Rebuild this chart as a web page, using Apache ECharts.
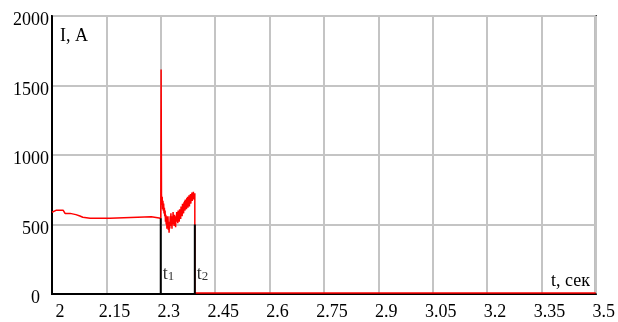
<!DOCTYPE html>
<html>
<head>
<meta charset="utf-8">
<script src="https://cdn.jsdelivr.net/npm/echarts@6/dist/echarts.min.js"></script>
<style>
  html, body { margin: 0; padding: 0; background: #fff; }
  #chart { width: 618px; height: 322px; }
</style>
</head>
<body>
<div id="chart"></div>
<script>
// Time samples (s) and phase current (A)
const timeSec = [
  2.000, 2.011, 2.031, 2.031, 2.036, 2.036, 2.050, 2.050, 2.066, 2.066, 2.077, 2.077,
  2.085, 2.085, 2.105, 2.160, 2.164, 2.274, 2.278, 2.300,
  2.301, 2.302, 2.303, 2.304, 2.305, 2.306, 2.307, 2.308, 2.309, 2.310, 2.311, 2.312,
  2.313, 2.314, 2.315, 2.316, 2.317, 2.318, 2.319, 2.320, 2.321, 2.322, 2.323, 2.324,
  2.325, 2.326, 2.327, 2.328, 2.329, 2.330, 2.331, 2.332, 2.333, 2.334, 2.335, 2.336,
  2.337, 2.338, 2.339, 2.340, 2.341, 2.342, 2.343, 2.344, 2.345, 2.346, 2.347, 2.348,
  2.349, 2.350, 2.351, 2.352, 2.353, 2.354, 2.355, 2.356, 2.357, 2.358, 2.359, 2.360,
  2.361, 2.362, 2.363, 2.364, 2.365, 2.366, 2.367, 2.368, 2.369, 2.370, 2.371, 2.372,
  2.373, 2.374, 2.375, 2.376, 2.377, 2.378, 2.379, 2.380, 2.381, 2.382, 2.383, 2.384,
  2.385, 2.386, 2.387, 2.388, 2.389, 2.390, 2.391, 2.392, 2.393, 2.394, 2.394, 3.500
];
const currentA = [
  588, 602, 602, 595, 595, 580, 580, 571, 571, 561, 561, 552,
  552, 545, 545, 545, 556, 556, 545, 545,
  1615, 720, 640, 700, 610, 670, 600, 650, 580, 620, 560, 600,
  520, 570, 500, 560, 470, 540, 500, 560, 460, 520, 440, 510,
  470, 560, 490, 580, 500, 540, 470, 560, 500, 590, 520, 560,
  490, 570, 510, 550, 480, 560, 520, 590, 530, 570, 510, 600,
  540, 580, 520, 610, 560, 600, 540, 630, 580, 620, 560, 650,
  600, 640, 580, 660, 620, 670, 600, 680, 630, 660, 610, 690,
  640, 700, 620, 690, 650, 710, 630, 700, 660, 720, 650, 715,
  680, 730, 670, 720, 690, 735, 680, 725, 700, 725, 8, 8
];

// Switching instants t1, t2 and the current level marked at each
const markTimes = [2.3, 2.394];
const markLevels = [545, 500];
const markNames = ['1', '2'];

// Axis ticks
const xTicks = { min: 2, max: 3.5, step: 0.15 };
const yTicks = { min: 0, max: 2000, step: 500 };

const serif = '"Liberation Serif", "Times New Roman", serif';

const chart = echarts.init(document.getElementById('chart'), null, { renderer: 'canvas' });

const markerSeries = markTimes.map((t, i) => ({
  type: 'line',
  data: [[t, 0], [t, markLevels[i]]],
  symbol: 'none',
  lineStyle: { color: '#000', width: 2 },
  z: 5,
  silent: true
}));

const markerLabels = markTimes.map((t, i) => ({
  type: 'scatter',
  data: [[t, 140]],
  symbolSize: 0,
  silent: true,
  label: {
    show: true,
    position: 'right',
    distance: 2,
    formatter: '{t|t}{s|' + markNames[i] + '}',
    rich: {
      t: { fontFamily: serif, fontSize: 18, color: '#000' },
      s: { fontFamily: serif, fontSize: 13, color: '#000', padding: [5, 0, 0, 0] }
    }
  }
}));

chart.setOption({
  animation: false,
  backgroundColor: '#fff',
  textStyle: { fontFamily: serif },
  grid: {
    left: 52, right: 21, top: 16, bottom: 28,
    show: true, borderColor: '#000', borderWidth: 2, backgroundColor: 'transparent'
  },
  xAxis: {
    type: 'value',
    min: xTicks.min, max: xTicks.max, interval: xTicks.step,
    axisLine: { show: true, lineStyle: { color: '#000', width: 2 } },
    axisTick: { show: false },
    splitLine: { show: true, lineStyle: { color: '#c4c4c4', width: 2 } },
    axisLabel: {
      color: '#000', fontFamily: serif, fontSize: 18, margin: 9,
      padding: [0, 0, 0, 16],
      formatter: v => String(Math.round(v * 100) / 100)
    }
  },
  yAxis: {
    type: 'value',
    min: yTicks.min, max: yTicks.max, interval: yTicks.step,
    axisLine: { show: true, lineStyle: { color: '#000', width: 2 } },
    axisTick: { show: false },
    splitLine: { show: true, lineStyle: { color: '#c4c4c4', width: 2 } },
    axisLabel: {
      color: '#000', fontFamily: serif, fontSize: 18, margin: 3,
      padding: [9, 0, 0, 0],
      formatter: v => v === 0 ? '{z|0}' : String(v),
      rich: { z: { fontFamily: serif, fontSize: 18, color: '#000', padding: [0, 9, 0, 0] } }
    }
  },
  graphic: [
    { type: 'text', left: 60, top: 27, style: { text: 'I, A', font: '18px ' + serif, fill: '#000' } },
    { type: 'text', right: 28, top: 272, style: { text: 't, сек', font: '18px ' + serif, fill: '#000' } }
  ],
  series: [
    {
      type: 'line',
      data: timeSec.map((t, i) => [t, currentA[i]]),
      symbol: 'none',
      lineStyle: { color: '#ff0000', width: 1.5 },
      z: 3,
      silent: true
    },
    ...markerSeries,
    ...markerLabels
  ]
});
</script>
</body>
</html>
